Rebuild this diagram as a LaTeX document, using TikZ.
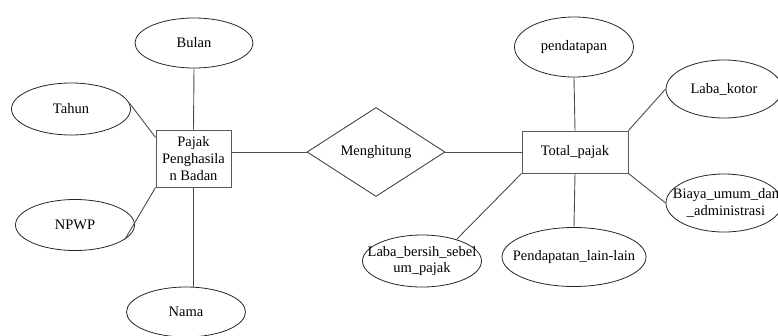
\documentclass[tikz,border=0pt]{standalone}
\usepackage{fontspec}
\setmainfont{Liberation Serif}
\usetikzlibrary{shapes.geometric,calc}
\begin{document}
\begin{tikzpicture}[x=1pt,y=-1pt,
 attr/.style={ellipse,draw=black!85,line width=0.8pt,inner sep=0pt},
 ent/.style={rectangle,draw=black!65,line width=0.9pt,inner sep=0pt},
 rel/.style={diamond,draw=black!80,line width=0.8pt,inner sep=0pt,aspect=1.55},
 lbl/.style={font=\fontsize{14.5}{16.8}\selectfont,align=center,inner sep=0pt},
 conn/.style={draw=black!70,line width=0.9pt}]
\useasboundingbox (0,0) rectangle (778,335);
% attributes left
\node[attr,minimum width=118pt,minimum height=50pt] (bulan) at (194,43) {};
\node[attr,minimum width=119pt,minimum height=52pt] (tahun) at (71,109) {};
\node[attr,minimum width=119pt,minimum height=51pt] (npwp) at (75,225) {};
\node[attr,minimum width=119pt,minimum height=50pt] (nama) at (186,312) {};
% entity left
\node[ent,minimum width=75pt,minimum height=57pt] (pajak) at (193.5,158.5) {};
% relation
\node[rel,minimum width=138pt,minimum height=89pt] (mh) at (376,152) {};
% entity right
\node[ent,minimum width=106pt,minimum height=42pt] (total) at (575,152) {};
% attributes right
\node[attr,minimum width=119pt,minimum height=60pt] (pend) at (574,47) {};
\node[attr,minimum width=116pt,minimum height=58pt] (lkotor) at (724,89) {};
\node[attr,minimum width=116pt,minimum height=58pt] (biaya) at (724,203) {};
\node[attr,minimum width=144pt,minimum height=59pt] (plain) at (574,257) {};
\node[attr,minimum width=119pt,minimum height=52pt] (lbersih) at (422,261) {};
% labels
\node[lbl] (bulanT) at (bulan) {Bulan};
\node[lbl] (tahunT) at (tahun) {Tahun};
\node[lbl] (npwpT) at (npwp) {NPWP};
\node[lbl] (namaT) at (nama) {Nama};
\node[lbl] (pajakT) at (pajak) {Pajak\\Penghasila\\n Badan};
\node[lbl] (mhT) at (mh) {Menghitung};
\node[lbl] (totalT) at (total) {Total\_pajak};
\node[lbl] (pendT) at (pend) {pendatapan};
\node[lbl] (lkotorT) at (lkotor) {Laba\_kotor};
\node[lbl] (biayaT) at (726,203) {Biaya\_umum\_dan\\\_administrasi};
\node[lbl] (plainT) at (plain) {Pendapatan\_lain-lain};
\node[lbl] (lbersihT) at (lbersih) {Laba\_bersih\_sebel\\um\_pajak};
% connectors
\draw[conn] (bulan.south) -- (pajak.north);
\draw[conn] (tahun.6) -- (pajak.151);
\draw[conn] (npwp.-16) -- (pajak.south west);
\draw[conn] (pajak.south) -- (pajak.south |- nama.north);
\draw[conn] (pajak.east |- mh.west) -- (mh.west);
\draw[conn] (mh.east) -- (total.west);
\draw[conn] (pend.south) -- (total.north);
\draw[conn] (total.north east) -- (lkotor.west);
\draw[conn] (total.south east) -- (biaya.west);
\draw[conn] (total.south) -- (plain.north);
\draw[conn] (total.south west) -- (lbersih.32);
\end{tikzpicture}
\end{document}
